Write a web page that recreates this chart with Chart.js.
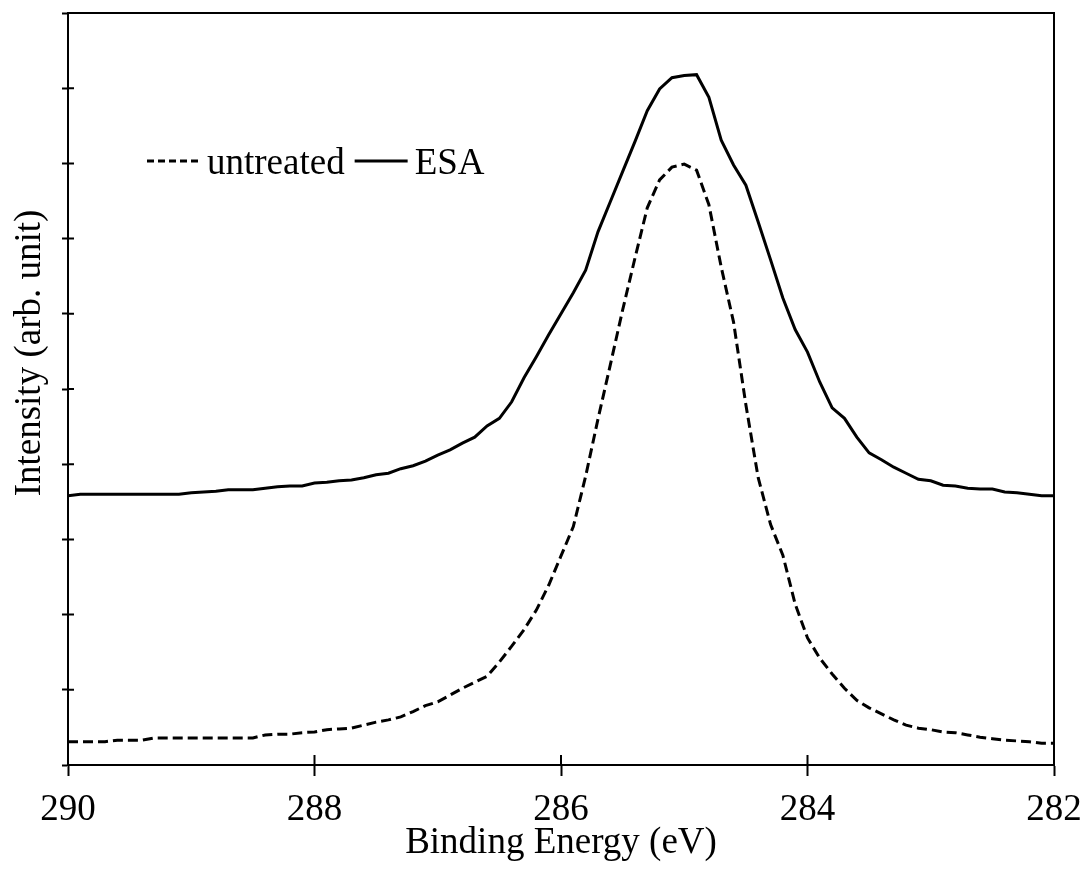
<!DOCTYPE html>
<html>
<head>
<meta charset="utf-8">
<title>C 1s spectra</title>
<script src="https://cdn.jsdelivr.net/npm/chart.js@4.4.1/dist/chart.umd.min.js"></script>
<style>
  html, body { margin: 0; padding: 0; background: #fff; }
  canvas { display: block; }
</style>
</head>
<body>
<canvas id="xps-chart" width="1087" height="879"></canvas>
<script>
// Binding energies (eV), 0.1 eV steps from 290 down to 282
const energies = [
  290.0, 289.9, 289.8, 289.7, 289.6, 289.5, 289.4, 289.3, 289.2, 289.1,
  289.0, 288.9, 288.8, 288.7, 288.6, 288.5, 288.4, 288.3, 288.2, 288.1,
  288.0, 287.9, 287.8, 287.7, 287.6, 287.5, 287.4, 287.3, 287.2, 287.1,
  287.0, 286.9, 286.8, 286.7, 286.6, 286.5, 286.4, 286.3, 286.2, 286.1,
  286.0, 285.9, 285.8, 285.7, 285.6, 285.5, 285.4, 285.3, 285.2, 285.1,
  285.0, 284.9, 284.8, 284.7, 284.6, 284.5, 284.4, 284.3, 284.2, 284.1,
  284.0, 283.9, 283.8, 283.7, 283.6, 283.5, 283.4, 283.3, 283.2, 283.1,
  283.0, 282.9, 282.8, 282.7, 282.6, 282.5, 282.4, 282.3, 282.2, 282.1,
  282.0
];

// Intensities (arb. unit), offset spectra
const untreated = [
  0.31, 0.31, 0.31, 0.31, 0.33, 0.33, 0.33, 0.36, 0.36, 0.36,
  0.36, 0.36, 0.36, 0.36, 0.36, 0.36, 0.40, 0.41, 0.41, 0.43,
  0.44, 0.47, 0.48, 0.49, 0.53, 0.57, 0.60, 0.64, 0.71, 0.79,
  0.84, 0.93, 1.02, 1.10, 1.18, 1.37, 1.58, 1.80, 2.06, 2.39,
  2.78, 3.17, 3.84, 4.60, 5.32, 6.05, 6.74, 7.41, 7.78, 7.95,
  7.99, 7.91, 7.45, 6.62, 5.89, 4.79, 3.82, 3.20, 2.79, 2.14,
  1.69, 1.42, 1.21, 1.02, 0.86, 0.76, 0.68, 0.60, 0.53, 0.49,
  0.47, 0.44, 0.43, 0.40, 0.37, 0.35, 0.33, 0.32, 0.31, 0.29,
  0.29
];

const esa = [
  3.58, 3.60, 3.60, 3.60, 3.60, 3.60, 3.60, 3.60, 3.60, 3.60,
  3.62, 3.63, 3.64, 3.66, 3.66, 3.66, 3.68, 3.70, 3.71, 3.71,
  3.75, 3.76, 3.78, 3.79, 3.82, 3.86, 3.88, 3.94, 3.98, 4.04,
  4.12, 4.19, 4.28, 4.36, 4.51, 4.61, 4.83, 5.15, 5.43, 5.72,
  6.00, 6.28, 6.58, 7.09, 7.49, 7.89, 8.29, 8.70, 8.99, 9.14,
  9.17, 9.18, 8.88, 8.31, 7.98, 7.71, 7.22, 6.72, 6.21, 5.79,
  5.49, 5.09, 4.75, 4.61, 4.36, 4.15, 4.06, 3.96, 3.88, 3.80,
  3.78, 3.72, 3.71, 3.68, 3.67, 3.67, 3.63, 3.62, 3.60, 3.58,
  3.58
];

const xTicks = [290, 288, 286, 284, 282];
const seriesLabels = ['untreated', 'ESA'];

const SERIF = '"Liberation Serif", "Times New Roman", serif';

function toPoints(values) {
  return energies.map((e, i) => ({ x: e, y: values[i] }));
}

// Frame, inward tick halves, y title and in-plot legend
const framePlugin = {
  id: 'frame',
  afterDraw(chart) {
    const { ctx, chartArea: a, scales } = chart;
    const xs = scales.x, ys = scales.y;
    ctx.save();
    ctx.strokeStyle = '#000';
    ctx.lineWidth = 2;
    ctx.setLineDash([]);

    ctx.beginPath();
    ctx.moveTo(a.left, a.top);
    ctx.lineTo(a.right, a.top);
    ctx.lineTo(a.right, a.bottom);
    ctx.stroke();

    ctx.beginPath();
    xs.ticks.forEach((t, i) => {
      const px = xs.getPixelForTick(i);
      ctx.moveTo(px, a.bottom);
      ctx.lineTo(px, a.bottom - 10);
    });
    ys.ticks.forEach((t, i) => {
      const py = ys.getPixelForTick(i);
      ctx.moveTo(a.left, py);
      ctx.lineTo(a.left + 6, py);
    });
    ctx.stroke();

    // y axis title
    ctx.fillStyle = '#000';
    ctx.font = '37px ' + SERIF;
    ctx.textAlign = 'center';
    ctx.textBaseline = 'alphabetic';
    ctx.translate(40, 353);
    ctx.rotate(-Math.PI / 2);
    ctx.fillText('Intensity (arb. unit)', 0, 0);
    ctx.restore();

    // legend
    ctx.save();
    ctx.font = '37px ' + SERIF;
    ctx.fillStyle = '#000';
    ctx.textBaseline = 'alphabetic';
    ctx.textAlign = 'left';
    let lx = 147;
    const ly = 161;
    chart.data.datasets.forEach(ds => {
      ctx.strokeStyle = ds.borderColor;
      ctx.lineWidth = 3;
      ctx.setLineDash(ds.borderDash && ds.borderDash.length ? [7, 4] : []);
      ctx.beginPath();
      ctx.moveTo(lx, ly);
      ctx.lineTo(lx + 53, ly);
      ctx.stroke();
      lx += 60;
      ctx.fillText(ds.label, lx, ly + 13);
      lx += ctx.measureText(ds.label).width + 10;
    });
    ctx.restore();
  }
};

const ctx = document.getElementById('xps-chart').getContext('2d');

const xpsChart = new Chart(ctx, {
  type: 'line',
  data: {
    datasets: [
      {
        label: seriesLabels[0],
        data: toPoints(untreated),
        borderColor: '#000',
        borderWidth: 3,
        borderDash: [10, 5],
        pointRadius: 0,
        tension: 0,
        fill: false
      },
      {
        label: seriesLabels[1],
        data: toPoints(esa),
        borderColor: '#000',
        borderWidth: 3,
        pointRadius: 0,
        tension: 0,
        fill: false
      }
    ]
  },
  options: {
    responsive: false,
    animation: false,
    events: [],
    layout: {
      padding: { left: 0, top: 13, right: 33, bottom: 0 }
    },
    plugins: {
      legend: { display: false },
      tooltip: { enabled: false }
    },
    scales: {
      x: {
        type: 'linear',
        reverse: true,
        min: 282,
        max: 290,
        afterBuildTicks: function(scale) {
          scale.ticks = xTicks.map(v => ({ value: v }));
        },
        afterFit: function(scale) {
          scale.height = 114;
          // labels at the ends may hang past the plot edges
          scale.paddingLeft = 0;
          scale.paddingRight = 0;
        },
        grid: {
          drawOnChartArea: false,
          drawTicks: true,
          tickLength: 11,
          tickWidth: 2,
          tickColor: '#000'
        },
        border: { display: true, color: '#000', width: 2 },
        ticks: {
          color: '#000',
          padding: 12,
          maxRotation: 0,
          font: { family: SERIF, size: 37 }
        },
        title: {
          display: true,
          text: 'Binding Energy (eV)',
          color: '#000',
          padding: { top: 0, bottom: 14 },
          font: { family: SERIF, size: 37 }
        }
      },
      y: {
        min: 0,
        max: 10,
        afterFit: function(scale) {
          scale.width = 68;
        },
        grid: {
          drawOnChartArea: false,
          drawTicks: true,
          tickLength: 6,
          tickWidth: 2,
          tickColor: '#000'
        },
        border: { display: true, color: '#000', width: 2 },
        ticks: {
          stepSize: 1,
          display: false
        }
      }
    }
  },
  plugins: [framePlugin]
});
</script>
</body>
</html>
